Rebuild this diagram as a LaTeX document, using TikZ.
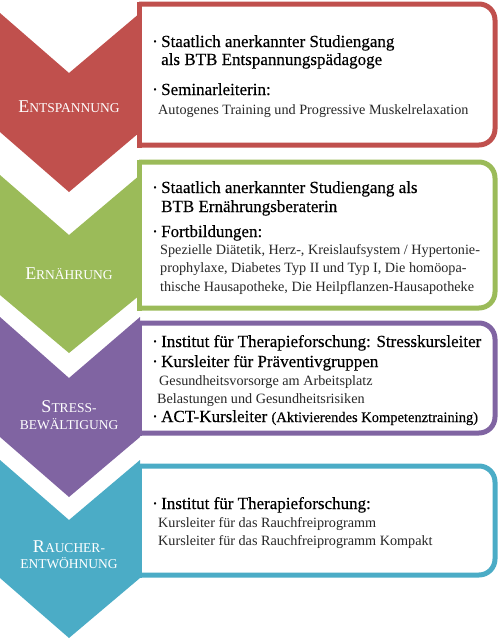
\documentclass[tikz,border=0pt]{standalone}
\usepackage{fontspec}
\setmainfont{Liberation Serif}
\newfontfamily\headfont[FakeBold=0.35]{Liberation Serif}
\definecolor{entred}{HTML}{C0504D}
\definecolor{erngreen}{HTML}{9BBB59}
\definecolor{strpurple}{HTML}{8064A2}
\definecolor{rauchteal}{HTML}{4BACC6}
\newcommand{\itm}{\makebox[9pt][l]{·}}
\newcommand{\capsl}[2]{{\fontsize{18}{18}\selectfont #1}{\fontsize{13.5}{13.5}\selectfont #2}}

\begin{document}
\begin{tikzpicture}[x=1pt,y=-1pt,head/.style={anchor=base west,inner sep=0pt,font=\headfont\fontsize{17}{17}\selectfont},sub/.style={anchor=base west,inner sep=0pt,font=\fontsize{14.2}{14.2}\selectfont,text=black!85},tag/.style={anchor=base,inner sep=0pt,text=white},frame/.style={line width=5pt,draw=#1}]
\useasboundingbox (0,0) rectangle (500,640);
\fill[entred] (0,13) -- (69,73) -- (140,13) -- (140,132) -- (69,192) -- (0,132) -- cycle;
\fill[erngreen] (0,175) -- (69,235) -- (140,175) -- (140,295) -- (69,353) -- (0,295) -- cycle;
\fill[strpurple] (0,317) -- (69,378) -- (140,317) -- (140,437) -- (69,497) -- (0,437) -- cycle;
\fill[rauchteal] (0,460) -- (69,520) -- (140,460) -- (140,578) -- (69,638) -- (0,578) -- cycle;
\filldraw[frame=entred,fill=white] (139,4) [rounded corners=16pt] -- (495,4) -- (495,145) -- (139,145);
\draw[frame=entred] (139,1.5) -- (139,147.5);
\filldraw[frame=erngreen,fill=white] (139,162) [rounded corners=16pt] -- (495,162) -- (495,308) -- (139,308);
\draw[frame=erngreen] (139,159.5) -- (139,310.5);
\filldraw[frame=strpurple,fill=white] (139,323) [rounded corners=16pt] -- (495,323) -- (495,433) -- (139,433);
\draw[frame=strpurple] (139,320.5) -- (139,435.5);
\filldraw[frame=rauchteal,fill=white] (139,466) [rounded corners=16pt] -- (495,466) -- (495,575) -- (139,575);
\draw[frame=rauchteal] (139,463.5) -- (139,577.5);
\node[tag] (entspannung) at (69,112) {\capsl{E}{NTSPANNUNG}};
\node[tag] (ernaehrung) at (69,279) {\capsl{E}{RNÄHRUNG}};
\node[tag] (stress) at (69,412) {\capsl{S}{TRESS-}};
\node[tag] (bewaeltigung) at (69,429) {\capsl{}{BEWÄLTIGUNG}};
\node[tag] (raucher) at (69,552) {\capsl{R}{AUCHER-}};
\node[tag] (entwoehnung) at (69,568) {\capsl{}{ENTWÖHNUNG}};
\node[head] (e1) at (152,47) {\itm Staatlich anerkannter Studiengang};
\node[head] (e2) at (161,65) {als BTB Entspannungspädagoge};
\node[head] (e3) at (152,95) {\itm Seminarleiterin:};
\node[sub] (e4) at (158,114) {Autogenes Training und Progressive Muskelrelaxation};
\node[head] (n1) at (152,193) {\itm Staatlich anerkannter Studiengang als};
\node[head] (n2) at (161,212) {BTB Ernährungsberaterin};
\node[head] (n3) at (152,237) {\itm Fortbildungen:};
\node[sub] (n4) at (160,254) {Spezielle Diätetik, Herz-, Kreislaufsystem / Hypertonie-};
\node[sub] (n5) at (160,272) {prophylaxe, Diabetes Typ II und Typ I, Die homöopa-};
\node[sub] (n6) at (160,291) {thische Hausapotheke, Die Heilpflanzen-Hausapotheke};
\node[head] (s1) at (152,347) {\itm Institut für Therapieforschung: Stresskursleiter};
\node[head] (s2) at (152,367) {\itm Kursleiter für Präventivgruppen};
\node[sub] (s3) at (159,385) {Gesundheitsvorsorge am Arbeitsplatz};
\node[sub] (s4) at (157,403) {Belastungen und Gesundheitsrisiken};
\node[head] (s5) at (152,422) {\itm ACT-Kursleiter {\fontsize{14.5}{14.5}\selectfont(Aktivierendes Kompetenztraining)}};
\node[head] (r1) at (152,509) {\itm Institut für Therapieforschung:};
\node[sub] (r2) at (158,527) {Kursleiter für das Rauchfreiprogramm};
\node[sub] (r3) at (158,545) {Kursleiter für das Rauchfreiprogramm Kompakt};
\end{tikzpicture}
\end{document}
